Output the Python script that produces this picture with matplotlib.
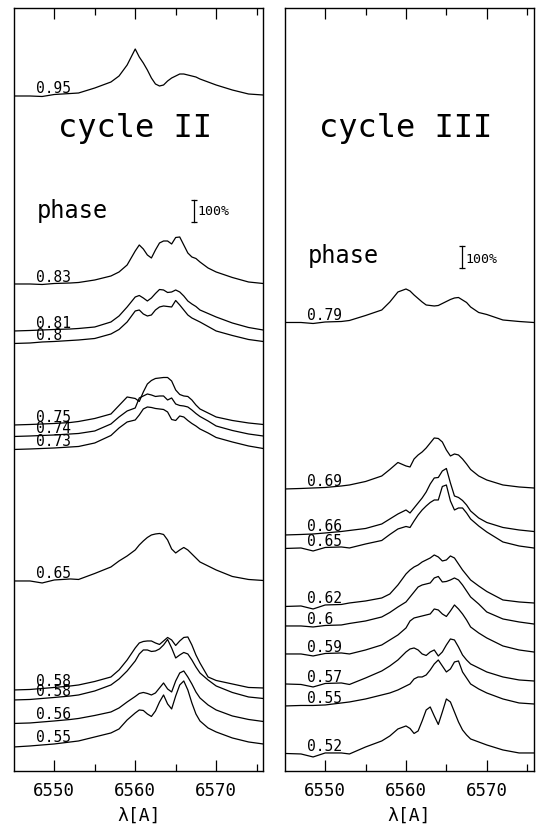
import matplotlib
matplotlib.use("Agg")
import matplotlib.pyplot as plt
from matplotlib.ticker import MultipleLocator

plt.rcParams['font.family'] = ['DejaVu Sans Mono', 'DejaVu Sans']

# wavelength grid (Angstrom) on which the spectra were read
wave = [6545, 6547, 6548.5, 6550, 6552, 6553, 6555, 6557, 6558, 6559,
        6560, 6560.5, 6561, 6561.5, 6562, 6562.5, 6563, 6563.5, 6564, 6564.5,
        6565, 6565.5, 6566, 6566.5, 6567, 6567.5, 6568, 6569, 6570, 6572,
        6574, 6575.8]

# length of the 100% scale bar in the stacked intensity units below
bar_100 = 22

# cycle II, stacked H-alpha profiles
c2_phase = ['0.95', '0.83', '0.81', '0.8', '0.75', '0.74', '0.73',
            '0.65', '0.58', '0.58', '0.56', '0.55']
c2_095 = [675, 675, 674.5, 676.5, 677.5, 678, 683, 689, 695, 706, 722, 714, 708, 701, 693, 687,
          685, 686, 690, 693, 695, 697, 697, 696, 695, 694, 692, 689, 686, 681, 677, 676]
c2_083 = [487, 487, 486.5, 487.5, 488, 488.5, 491, 495, 499, 506, 520, 526, 522, 516, 513, 521,
          528, 530, 530, 527, 533.5, 534, 526, 518, 514, 512.5, 509, 503, 499, 493.5, 489, 487.5]
c2_081 = [440, 440.5, 441, 441.5, 442, 442.5, 444, 449, 455, 464, 474, 475.5, 473, 470, 473, 477.5,
          481.5, 481, 478.5, 479, 481, 479, 475, 470, 467, 464.5, 461, 457.5, 454, 448, 443.5, 441]
c2_080 = [427.5, 428, 429, 429.5, 430.5, 431, 432.5, 437, 441.5, 449, 460, 461, 457, 455, 456, 461,
          464, 465, 464.5, 464, 470.5, 466, 461, 456, 453, 451, 449, 444.5, 440, 435.5, 431.5, 429.5]
c2_075 = [346, 346.5, 347, 347.5, 348.5, 349.5, 352.5, 357, 365.5, 374, 372.5, 369.5, 379, 387, 390.5, 392.5,
          393, 393.5, 393.5, 390, 381, 376.5, 375, 374.5, 371, 366, 362, 358, 354, 350.5, 348, 346.5]
c2_074 = [334.5, 335, 335.5, 336, 337, 337.5, 340, 347, 354, 360, 363, 373, 375, 377, 376, 374.5,
          375, 375, 371, 373, 367, 365.5, 365, 364, 361, 357.5, 354.5, 350, 345, 340.5, 337, 335]
c2_073 = [321.5, 322, 322.5, 323, 324, 324.5, 328, 335.5, 343, 349, 351, 356, 362, 364, 363.5, 362.5,
          362, 361.5, 359, 351.5, 350.5, 355, 354, 350.5, 347.5, 345, 342, 338, 333.5, 329, 325, 322.5]
c2_065 = [190, 190, 188, 191, 192, 191.5, 197.5, 204, 210, 215, 221, 226, 230, 233.5, 236, 237,
          237.5, 236.5, 231, 222, 218, 221, 223.5, 221, 217, 213, 209, 205, 201, 194.5, 191.5, 190.5]
c2_058a = [81, 81.5, 82.5, 83.5, 85, 86, 89.5, 94, 101, 111, 123, 128, 129.5, 130, 130, 128,
           126.5, 130, 133.5, 131, 125.5, 130, 133.5, 134, 126, 116, 108, 94, 90.5, 87, 83.5, 83]
c2_058b = [71, 71.5, 72.5, 73.5, 75, 76, 80, 86, 92, 100, 110, 117, 121, 121, 119.5, 120,
           122, 126, 131.5, 123, 113, 116, 118.5, 117, 111, 104, 98, 91, 85, 78.5, 74, 72.5]
c2_056 = [47.5, 48, 49, 50, 51.5, 52.5, 55.5, 59, 63, 69, 74.5, 77.5, 78.5, 77.5, 76, 78,
          83, 88, 82, 79, 90, 98, 100, 94, 87, 79, 73, 66, 61, 55, 51.5, 49.5]
c2_055 = [24, 25, 26, 27, 29, 30, 34, 38, 42, 51, 58, 61, 60.5, 57, 54.5, 60,
          69, 76, 67, 62, 75, 86, 90, 81, 68, 57, 50, 43, 39, 33, 29, 27]
c2_flux = [c2_095, c2_083, c2_081, c2_080, c2_075, c2_074, c2_073,
           c2_065, c2_058a, c2_058b, c2_056, c2_055]

# cycle III, stacked H-alpha profiles
c3_phase = ['0.79', '0.69', '0.66', '0.65', '0.62', '0.6', '0.59', '0.57', '0.55', '0.52']
c3_079 = [448.5, 448.5, 447.5, 449, 449.5, 450.5, 455.5, 461, 469, 479, 482, 480, 476, 472.5, 469, 466,
          465.5, 465, 465.5, 467.5, 469.5, 471.5, 473, 473.5, 471, 468.5, 464, 458.5, 456.5, 451, 449.5, 448.5]
c3_069 = [282, 282.5, 283, 283.5, 285, 286, 289.5, 295, 301.5, 308.5, 305, 304, 312, 316, 319, 323,
          328, 333, 332.5, 329, 321, 315, 317, 316, 312, 307, 301.5, 295, 291, 286, 284, 283]
c3_066 = [236, 236.5, 237, 238, 239.5, 240.5, 242.5, 247, 252, 257, 261, 258, 263, 268, 273, 279,
          287, 293, 293.5, 300, 302.5, 288, 275, 273.5, 270.5, 266, 260, 253, 248.5, 243.5, 241, 239.5]
c3_065 = [222.5, 223, 220, 223.5, 224, 223, 227, 230.5, 236.5, 242, 244.5, 243.5, 250, 256, 261, 265,
          268.5, 271, 271, 284.5, 286, 270, 261, 263, 263, 258, 252, 245, 239, 229, 225, 223]
c3_062 = [164.5, 165, 162, 166, 166.5, 168, 170, 173, 177, 186, 197, 201, 204, 206, 209, 211,
          213, 216, 214, 210, 211, 215, 213, 207, 201, 196, 191, 185, 179.5, 171, 169, 168]
c3_060 = [145, 145, 144, 145.5, 146, 147.5, 150, 154, 158.5, 164, 169, 174, 179, 184, 186, 187,
          188, 193, 194.5, 189, 189.5, 191, 193, 191, 186, 180, 174, 167, 159, 152, 149, 147]
c3_059 = [117, 117, 115, 117.5, 118, 117, 121, 126, 131, 136, 143, 150, 153, 154, 155, 156,
          157, 162, 161, 157, 154.5, 160, 166, 162, 157, 151, 144, 138, 133, 125, 121, 119]
c3_057 = [87, 86.5, 84, 87.5, 88, 86.5, 93, 100, 105, 111, 119, 122, 123, 121, 117, 115.5,
          119, 121, 115, 119, 126, 132, 131, 124, 116, 111, 107, 103, 99, 94, 91, 90]
c3_055 = [65, 65.5, 65.5, 66, 68, 69, 72, 76, 78, 81, 85, 87, 92, 94, 94, 96,
          101, 107, 111, 105, 99, 102, 109, 110, 99, 93, 87, 82, 78, 72, 68, 67]
c3_052 = [17.5, 17, 14, 18, 18, 17, 24, 30, 35, 42, 45, 42.5, 37.5, 40, 50, 61,
          64, 55, 46.5, 59, 72, 69, 59, 49, 41, 36, 32, 29, 26, 21, 18, 18]
c3_flux = [c3_079, c3_069, c3_066, c3_065, c3_062, c3_060, c3_059, c3_057, c3_055, c3_052]

fig = plt.figure(figsize=(5.36, 8.25), dpi=100)
ax1 = fig.add_axes([0.0261, 0.0655, 0.4655, 0.9248])
ax2 = fig.add_axes([0.5317, 0.0655, 0.4646, 0.9248])

panels = [
    (ax1, c2_phase, c2_flux, 'cycle II', 553, 6567.3, 549, 6567.65, 556),
    (ax2, c3_phase, c3_flux, 'cycle III', 508, 6566.95, 503, 6567.4, 508),
]

for ax, phases, fluxes, title, phase_y, bar_x, bar_y, pct_x, pct_y in panels:
    for ph, fl in zip(phases, fluxes):
        ax.plot(wave, fl, color='k', lw=0.9)
        ax.text(6547.8, fl[3] + 1.5, ph, fontsize=10.5, va='baseline', ha='left')

    ax.text(6560, 634, title, fontsize=23, ha='center', va='baseline')
    ax.text(6547.8, phase_y, 'phase', fontsize=17, ha='left', va='baseline')
    ax.plot([bar_x, bar_x], [bar_y, bar_y + bar_100], color='k', lw=0.9,
            marker='_', ms=5, mew=0.9)
    ax.text(pct_x, pct_y, '100%', fontsize=9.5, ha='left', va='baseline')

    ax.set_xlim(6545.02, 6575.85)
    ax.set_ylim(0, 763)
    ax.set_yticks([])
    ax.xaxis.set_major_locator(MultipleLocator(10))
    ax.xaxis.set_minor_locator(MultipleLocator(5))
    ax.tick_params(axis='x', which='both', direction='in', top=True, bottom=True,
                   width=0.9, labelsize=12.5, pad=8)
    ax.tick_params(axis='x', which='major', length=8)
    ax.tick_params(axis='x', which='minor', length=5)
    ax.set_xlabel('λ[A]', fontsize=13, labelpad=5)
    for sp in ax.spines.values():
        sp.set_linewidth(1.0)

fig.savefig('out.png', dpi=100)
